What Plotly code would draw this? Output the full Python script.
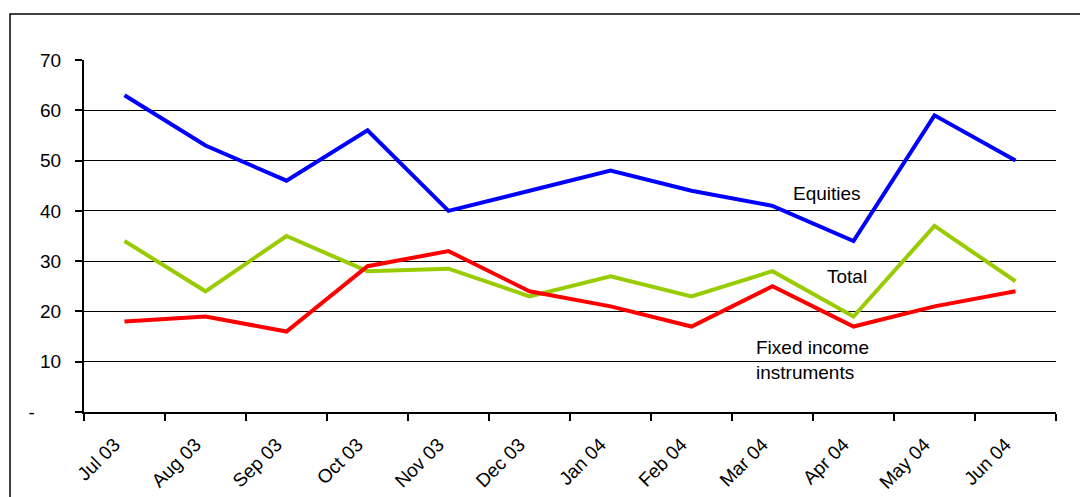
import plotly.graph_objects as go

months = ["Jul 03", "Aug 03", "Sep 03", "Oct 03", "Nov 03", "Dec 03",
          "Jan 04", "Feb 04", "Mar 04", "Apr 04", "May 04", "Jun 04"]
equities = [63, 53, 46, 56, 40, 44, 48, 44, 41, 34, 59, 50]
total = [34, 24, 35, 28, 28.5, 23, 27, 23, 28, 19, 37, 26]
fixed_income = [18, 19, 16, 29, 32, 24, 21, 17, 25, 17, 21, 24]

y_ticks = [0, 10, 20, 30, 40, 50, 60, 70]
y_ticktext = ["-\u00a0\u00a0\u00a0\u00a0\u00a0", "10", "20", "30", "40", "50", "60", "70"]

FONT = "Liberation Sans, Arial, sans-serif"
FS = 19

fig = go.Figure()
fig.add_trace(go.Scatter(x=months, y=equities, mode="lines", name="Equities",
                         line=dict(color="#0000FF", width=4)))
fig.add_trace(go.Scatter(x=months, y=total, mode="lines", name="Total",
                         line=dict(color="#99CC00", width=4)))
fig.add_trace(go.Scatter(x=months, y=fixed_income, mode="lines", name="Fixed income instruments",
                         line=dict(color="#FF0000", width=4)))

# in-chart series labels
fig.add_annotation(x=8.67, y=43.5, text="Equities", showarrow=False,
                   font=dict(size=FS, color="black", family=FONT))
fig.add_annotation(x=8.92, y=27, text="Total", showarrow=False,
                   font=dict(size=FS, color="black", family=FONT))
fig.add_annotation(x=8.49, y=10.3, text="Fixed income<br>instruments", showarrow=False,
                   align="left", font=dict(size=FS, color="black", family=FONT))

# outer frame
fig.add_shape(type="rect", xref="paper", yref="paper",
              x0=-0.0761, x1=1.03, y0=-0.27, y1=1.1307,
              line=dict(color="black", width=1.5), fillcolor="rgba(0,0,0,0)")

fig.update_layout(
    width=1080, height=497,
    margin=dict(l=84, r=24, t=60, b=85),
    paper_bgcolor="white", plot_bgcolor="white",
    showlegend=False,
    font=dict(family=FONT, size=FS, color="black"),
    xaxis=dict(
        type="category", range=[-0.5, 11.5], automargin=False,
        showline=True, linecolor="black", linewidth=2,
        ticks="outside", tickson="boundaries", ticklen=7, tickwidth=2, tickcolor="black",
        tickangle=-45, showgrid=False, zeroline=False,
        ticklabelstandoff=12, ticklabelshift=-10,
        tickfont=dict(size=FS, family=FONT),
    ),
    yaxis=dict(
        range=[0, 70], tickvals=y_ticks, ticktext=y_ticktext, automargin=False,
        showline=True, linecolor="black", linewidth=2,
        ticks="outside", ticklen=7, tickwidth=2, tickcolor="black",
        showgrid=True, gridcolor="black", gridwidth=1, zeroline=False,
        ticklabelstandoff=10,
        tickfont=dict(size=FS, family=FONT),
    ),
)

fig.write_html("out.html")
